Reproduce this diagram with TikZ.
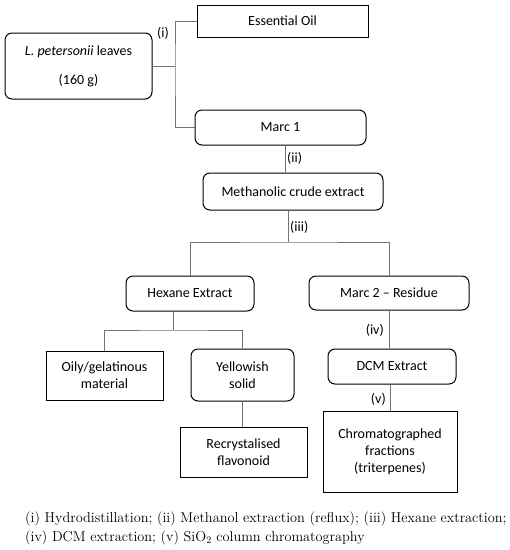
\documentclass[tikz,border=0pt]{standalone}
\usepackage{fontspec}
\setsansfont{Carlito}
\usepackage{tikz}
\usepackage{xcolor}

\begin{document}
\begin{tikzpicture}[x=1pt, y=-1pt,
  rbox/.style={rectangle, draw=black, line width=1pt, rounded corners=7pt, align=center, inner sep=2pt, font=\sffamily\fontsize{14}{17}\selectfont},
  sbox/.style={rectangle, draw=black, line width=1pt, align=center, inner sep=2pt, font=\sffamily\fontsize{14}{17}\selectfont},
  link/.style={draw=black!55, line width=0.8pt},
  lab/.style={inner sep=0pt, font=\sffamily\fontsize{14}{17}\selectfont}]
\useasboundingbox (0,0) rectangle (510,550);
\node[rbox, minimum width=147pt, minimum height=66pt] (leaves) at (78.5,66) {\textit{L. petersonii} leaves\\[12pt](160 g)};
\node[sbox, minimum width=171pt, minimum height=32pt] (oil) at (282.5,21) {Essential Oil};
\node[rbox, minimum width=171pt, minimum height=35pt] (marc1) at (280.5,127.5) {Marc 1};
\node[rbox, minimum width=180pt, minimum height=37pt] (meth) at (293,191.5) {Methanolic crude extract};
\node[rbox, minimum width=128pt, minimum height=35pt] (hex) at (190,293.5) {Hexane Extract};
\node[rbox, minimum width=160pt, minimum height=34pt] (marc2) at (389,293) {Marc 2 -- Residue};
\node[sbox, minimum width=117pt, minimum height=49pt] (oily) at (104.5,375.5) {Oily/gelatinous\\material};
\node[rbox, minimum width=103pt, minimum height=52pt] (yell) at (242.5,375) {Yellowish\\solid};
\node[sbox, minimum width=127pt, minimum height=50pt] (recr) at (243.5,452) {Recrystalised\\flavonoid};
\node[rbox, minimum width=128pt, minimum height=35pt] (dcm) at (392,366.5) {DCM Extract};
\node[sbox, minimum width=134pt, minimum height=81pt] (chrom) at (390,451.5) {Chromatographed\\fractions\\(triterpenes)};

\coordinate (j1) at (175,66);
\coordinate (j2) at (288,242);
\coordinate (j3) at (173,330);
\draw[link] (leaves.east) -- (j1);
\draw[link] (oil.west) -| (j1) |- (marc1.west);
\draw[link] (285,0 |- marc1.south) -- (285,0 |- meth.north);
\draw[link] (j2 |- meth.south) -- (j2);
\draw[link] (hex.north) |- (j2) -| (marc2.north);
\draw[link] (j3 |- hex.south) -- (j3);
\draw[link] (oily.north) |- (j3) -| (yell.north);
\draw[link] (yell.south) -- (yell.south |- recr.north);
\draw[link] (marc2.south) -- (marc2.south |- dcm.north);
\draw[link] (chrom.north |- dcm.south) -- (chrom.north);

\node[lab] (l1) at (163,33) {(i)};
\node[lab, anchor=west] (l2) at (287,158) {(ii)};
\node[lab, anchor=west] (l3) at (290,227) {(iii)};
\node[lab, anchor=east] (l4) at (384,330) {(iv)};
\node[lab, anchor=east] (l5) at (386,399) {(v)};

\node[anchor=base west, align=left, inner sep=0pt, font=\rmfamily\fontsize{14.3}{19}\selectfont] (note) at (25,541) {(i) Hydrodistillation; (ii) Methanol extraction (reflux); (iii) Hexane extraction;\\(iv) DCM extraction; (v) SiO\textsubscript{2} column chromatography};
\end{tikzpicture}
\end{document}
